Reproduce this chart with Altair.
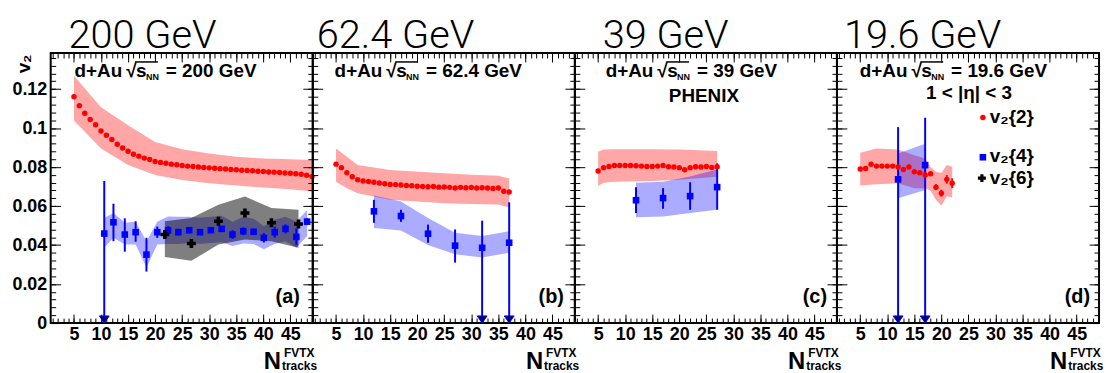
import altair as alt
import pandas as pd

# ---------------- layout / style constants ----------------
W, H = 264, 272
XDOM = [0.7, 49.14]
YDOM = [0.0, 0.1385]
FONT = "Liberation Sans, Arial, sans-serif"
NARROW = "Liberation Sans Narrow, Liberation Sans, Arial, sans-serif"
TITLE_FONT = "Roboto, Liberation Sans, sans-serif"
RED = "#ff0000"
BLUE = "#0000ff"

# ---------------- text / ticks ----------------
energies = ["200 GeV", "62.4 GeV", "39 GeV", "19.6 GeV"]
panel_tags = ["(a)", "(b)", "(c)", "(d)"]
x_major = [5, 10, 15, 20, 25, 30, 35, 40, 45]
y_major = [0.0, 0.02, 0.04, 0.06, 0.08, 0.10, 0.12]

# ---------------- panel (a) 200 GeV ----------------
a_v22_x = list(range(5, 50))
a_v22_y = [0.1161, 0.1115, 0.1076, 0.1044, 0.1017, 0.0985, 0.0963, 0.0941, 0.0917, 0.0898,
           0.0881, 0.0866, 0.0856, 0.0846, 0.0839, 0.0829, 0.0824, 0.0820, 0.0815, 0.0812,
           0.0808, 0.0805, 0.0803, 0.0800, 0.0798, 0.0796, 0.0794, 0.0792, 0.0790, 0.0788,
           0.0786, 0.0784, 0.0783, 0.0781, 0.0779, 0.0777, 0.0775, 0.0774, 0.0772, 0.0770,
           0.0768, 0.0766, 0.0763, 0.0758, 0.0751]
a_v22_band_x = [5, 10, 15, 20, 25, 30, 35, 40, 45, 49]
a_v22_band_lo = [0.1039, 0.0895, 0.0810, 0.0759, 0.0734, 0.0717, 0.0705, 0.0695, 0.0686, 0.0675]
a_v22_band_hi = [0.1268, 0.1107, 0.1014, 0.0929, 0.0892, 0.0870, 0.0853, 0.0844, 0.0840, 0.0836]

a_v24_x = [10.6, 12.3, 14.4, 16.4, 18.4, 20.4, 22.4, 24.3, 26.3, 28.3,
           30.3, 32.3, 34.3, 36.3, 38.2, 40.1, 42.1, 44.1, 46.1, 48.1]
a_v24_y = [0.0459, 0.0517, 0.0454, 0.0466, 0.0351, 0.0466, 0.0475, 0.0466, 0.0476, 0.0466,
           0.0476, 0.0483, 0.0454, 0.0471, 0.0468, 0.0437, 0.0466, 0.0483, 0.0442, 0.0520]
a_v24_lo = [0.0, 0.0420, 0.0366, 0.0417, 0.0264, 0.0437, 0.0453, 0.0448, 0.0460, 0.0452,
            0.0462, 0.0468, 0.0432, 0.0451, 0.0452, 0.0413, 0.0438, 0.0460, 0.0400, 0.0502]
a_v24_hi = [0.0729, 0.0612, 0.0537, 0.0522, 0.0437, 0.0495, 0.0497, 0.0484, 0.0492, 0.0480,
            0.0490, 0.0498, 0.0476, 0.0491, 0.0484, 0.0461, 0.0494, 0.0506, 0.0485, 0.0538]
a_v24_band_lo = [0.0386, 0.0437, 0.0403, 0.0403, 0.0285, 0.0403, 0.0405, 0.0405, 0.0410, 0.0405,
                 0.0410, 0.0415, 0.0395, 0.0408, 0.0405, 0.0378, 0.0405, 0.0420, 0.0386, 0.0446]
a_v24_band_hi = [0.0539, 0.0564, 0.0514, 0.0520, 0.0420, 0.0520, 0.0547, 0.0545, 0.0545, 0.0540,
                 0.0545, 0.0550, 0.0520, 0.0545, 0.0535, 0.0497, 0.0530, 0.0545, 0.0520, 0.0580]

a_v26_x = [21.8, 26.7, 31.7, 36.6, 41.5, 46.5]
a_v26_y = [0.0454, 0.0408, 0.0522, 0.0564, 0.0514, 0.0508]
a_v26_lo = [0.0440, 0.0393, 0.0507, 0.0549, 0.0499, 0.0493]
a_v26_hi = [0.0468, 0.0423, 0.0537, 0.0579, 0.0529, 0.0523]
a_v26_band_lo = [0.0339, 0.0319, 0.0403, 0.0429, 0.0420, 0.0386]
a_v26_band_hi = [0.0522, 0.0539, 0.0607, 0.0649, 0.0590, 0.0581]

# ---------------- panel (b) 62.4 GeV ----------------
b_v22_x = list(range(5, 38))
b_v22_y = [0.0815, 0.0797, 0.0771, 0.0750, 0.0735, 0.0729, 0.0726, 0.0722, 0.0718, 0.0714,
           0.0711, 0.0710, 0.0708, 0.0706, 0.0704, 0.0702, 0.0700, 0.0699, 0.0700, 0.0697,
           0.0698, 0.0696, 0.0693, 0.0696, 0.0694, 0.0695, 0.0693, 0.0694, 0.0693, 0.0690,
           0.0693, 0.0676, 0.0672]
b_v22_band_x = [5, 7, 9, 15, 25, 30, 35, 37]
b_v22_band_lo = [0.0725, 0.0692, 0.0666, 0.0632, 0.0615, 0.0610, 0.0608, 0.0593]
b_v22_band_hi = [0.0895, 0.0853, 0.0810, 0.0785, 0.0768, 0.0760, 0.0755, 0.0742]

b_v24_x = [12, 17, 22, 27, 32, 37]
b_v24_y = [0.0573, 0.0549, 0.0458, 0.0397, 0.0386, 0.0412]
b_v24_lo = [0.0514, 0.0519, 0.0412, 0.0310, 0.0, 0.0]
b_v24_hi = [0.0632, 0.0581, 0.0505, 0.0480, 0.0525, 0.0619]
b_v24_band_lo = [0.0488, 0.0475, 0.0400, 0.0353, 0.0336, 0.0361]
b_v24_band_hi = [0.0654, 0.0624, 0.0539, 0.0463, 0.0446, 0.0471]

# ---------------- panel (c) 39 GeV ----------------
c_v22_x = list(range(5, 28))
c_v22_y = [0.0780, 0.0797, 0.0803, 0.0808, 0.0808, 0.0808, 0.0808, 0.0807, 0.0805, 0.0803,
           0.0803, 0.0805, 0.0808, 0.0802, 0.0800, 0.0797, 0.0786, 0.0797, 0.0802, 0.0800,
           0.0803, 0.0798, 0.0802]
c_v22_band_x = [5, 6, 8, 15, 20, 27]
c_v22_band_lo = [0.0703, 0.0720, 0.0725, 0.0729, 0.0735, 0.0750]
c_v22_band_hi = [0.0878, 0.0890, 0.0892, 0.0892, 0.0890, 0.0883]

c_v24_x = [12, 17, 22, 27]
c_v24_y = [0.0630, 0.0641, 0.0651, 0.0697]
c_v24_lo = [0.0564, 0.0586, 0.0581, 0.0581]
c_v24_hi = [0.0697, 0.0692, 0.0722, 0.0819]
c_v24_band_lo = [0.0542, 0.0547, 0.0564, 0.0581]
c_v24_band_hi = [0.0720, 0.0725, 0.0751, 0.0788]

# ---------------- panel (d) 19.6 GeV ----------------
d_v22_x = list(range(5, 23))
d_v22_y = [0.0790, 0.0793, 0.0814, 0.0805, 0.0805, 0.0805, 0.0805, 0.0800, 0.0788, 0.0800,
           0.0776, 0.0771, 0.0759, 0.0766, 0.0697, 0.0666, 0.0737, 0.0717]
d_v22_lo = [0.0785, 0.0788, 0.0809, 0.0800, 0.0800, 0.0800, 0.0800, 0.0795, 0.0783, 0.0795,
            0.0771, 0.0766, 0.0753, 0.0760, 0.0682, 0.0648, 0.0715, 0.0692]
d_v22_hi = [0.0795, 0.0798, 0.0819, 0.0810, 0.0810, 0.0810, 0.0810, 0.0805, 0.0793, 0.0805,
            0.0781, 0.0776, 0.0765, 0.0772, 0.0712, 0.0684, 0.0759, 0.0742]
d_v22_band_x = [5, 8, 12, 15, 17, 18, 19, 20, 21, 22]
d_v22_band_lo = [0.0705, 0.0712, 0.0717, 0.0692, 0.0692, 0.0680, 0.0632, 0.0602, 0.0650, 0.0644]
d_v22_band_hi = [0.0873, 0.0895, 0.0890, 0.0861, 0.0844, 0.0800, 0.0776, 0.0770, 0.0810, 0.0802]

d_v24_x = [12, 17]
d_v24_y = [0.0737, 0.0810]
d_v24_lo = [0.0, 0.0]
d_v24_hi = [0.1005, 0.1053]
d_v24_band_lo = [0.0640, 0.0683]
d_v24_band_hi = [0.0870, 0.0920]


# ---------------- helpers ----------------
def X(field="x", axis=None):
    return alt.X(f"{field}:Q", scale=alt.Scale(domain=XDOM, nice=False, zero=False), axis=axis)


def Y(field, axis=None):
    return alt.Y(f"{field}:Q", scale=alt.Scale(domain=YDOM, nice=False, zero=False), axis=axis)


def band(x, lo, hi, color, opacity):
    df = pd.DataFrame({"x": x, "lo": lo, "hi": hi})
    return alt.Chart(df).mark_area(color=color, opacity=opacity, interpolate="linear").encode(
        x=X(), y=Y("lo"), y2="hi:Q")


def errbars(x, lo, hi, color, width=2):
    df = pd.DataFrame({"x": x, "lo": lo, "hi": hi})
    return alt.Chart(df).mark_rule(color=color, strokeWidth=width).encode(x=X(), y=Y("lo"), y2="hi:Q")


def pts(x, y, kind):
    df = pd.DataFrame({"x": x, "y": y})
    if kind == "circle":
        m = alt.Chart(df).mark_point(shape="circle", filled=True, size=30, color=RED, opacity=1)
    elif kind == "square":
        m = alt.Chart(df).mark_point(shape="square", filled=True, size=44, color=BLUE, opacity=1)
    else:
        m = alt.Chart(df).mark_point(shape="cross", filled=True, size=81, color="black", opacity=1)
    return m.encode(x=X(), y=Y("y"))


def arrows(x, lo):
    df = pd.DataFrame({"x": x, "lo": lo})
    df = df[df["lo"] <= 0.0]
    return alt.Chart(df).mark_point(
        shape="M-0.9,-1.3L0.9,-1.3L0,0Z", filled=True, size=121,
        fill="#000060", stroke=BLUE, strokeWidth=1, opacity=1).encode(x=X(), y=Y("lo"))


def ax(orient, values, size, labels=False, **kw):
    return alt.Axis(orient=orient, values=values, tickSize=size, offset=-size, domain=False,
                    grid=False, labels=labels, title=None, ticks=True, tickColor="black",
                    tickWidth=1, **kw)


DUMMY = pd.DataFrame({"x": [25.0], "y": [0.05]})


def axis_layer(xaxis, yaxis):
    return alt.Chart(DUMMY).mark_point(opacity=0).encode(
        x=X("x", xaxis), y=Y("y", yaxis))


ONE = pd.DataFrame({"d": [0]})


def txt(t, x, y, size=19, weight="bold", align="left", baseline="alphabetic", angle=0, font=FONT):
    props = dict(text=t, fontSize=size, fontWeight=weight, align=align, baseline=baseline,
                 font=font, color="black")
    if angle:
        props["angle"] = angle
    return alt.Chart(ONE).mark_text(**props).encode(x=alt.value(x), y=alt.value(y))


def hline(x1, x2, y):
    return alt.Chart(ONE).mark_rule(color="black", strokeWidth=1.5).encode(
        x=alt.value(x1), x2=alt.value(x2), y=alt.value(y))


x_minor = list(range(1, 50))
y_minor = [round(0.004 * k, 3) for k in range(0, 35)]

label_style = dict(labelFontWeight="bold", labelColor="black", labelOverlap=False, labelFlush=False)


def axis_layers(first):
    xb = ax("bottom", x_major, 9, labels=True, labelFont=NARROW, labelFontSize=18,
            labelPadding=3, **label_style)
    if first:
        yl = ax("left", y_major, 10, labels=True, labelFont=FONT, labelFontSize=18,
                labelPadding=4, format=".2~f", **label_style)
    else:
        yl = ax("left", y_major, 10)
    return [
        axis_layer(xb, yl),
        axis_layer(ax("bottom", x_minor, 5), ax("left", y_minor, 5)),
        axis_layer(ax("top", x_major, 9), ax("right", y_major, 10)),
        axis_layer(ax("top", x_minor, 5), ax("right", y_minor, 5)),
    ]


def header_text(start, energy):
    s = start - 24
    return [
        txt("d+Au", 24 + s, 24),
        txt("\u221a", 76 + s, 24),
        txt("s", 86 + s, 24),
        hline(85 + s, 108 + s, 9),
        txt("NN", 96 + s, 27, size=9),
        txt("= " + energy, 116 + s, 24),
    ]


def xtitle():
    return [
        txt("N", W - 32, H + 46, size=24, align="right"),
        txt("FVTX", W - 29, H + 34, size=12),
        txt("tracks", W - 31, H + 47, size=12),
    ]


RB, BB = "#ff0000", "#0000ff"


def make_panel(i, layers, extra, title_x, head_start, tag_x):
    base = layers + axis_layers(i == 0)
    base += [txt(energies[i], title_x, -5, size=40, weight=300, font=TITLE_FONT)]
    base += header_text(head_start, energies[i])
    base += [txt(panel_tags[i], tag_x, 252, size=20, align="right")]
    base += xtitle()
    base += extra
    return alt.layer(*base).resolve_axis(x="independent", y="independent").properties(
        width=W, height=H)


pa = make_panel(0, [
    band(a_v22_band_x, a_v22_band_lo, a_v22_band_hi, RB, 0.35),
    band(a_v24_x, a_v24_band_lo, a_v24_band_hi, BB, 0.33),
    band(a_v26_x, a_v26_band_lo, a_v26_band_hi, "#000000", 0.5),
    errbars(a_v24_x, a_v24_lo, a_v24_hi, BLUE),
    errbars(a_v26_x, a_v26_lo, a_v26_hi, "black"),
    pts(a_v22_x, a_v22_y, "circle"),
    pts(a_v24_x, a_v24_y, "square"),
    pts(a_v26_x, a_v26_y, "cross"),
    arrows(a_v24_x, a_v24_lo),
], [txt("v\u2082", -27, 11, size=19, align="center", baseline="middle", angle=270)],
    title_x=18, head_start=24, tag_x=251)

pb = make_panel(1, [
    band(b_v22_band_x, b_v22_band_lo, b_v22_band_hi, RB, 0.35),
    band(b_v24_x, b_v24_band_lo, b_v24_band_hi, BB, 0.33),
    errbars(b_v24_x, b_v24_lo, b_v24_hi, BLUE),
    pts(b_v22_x, b_v22_y, "circle"),
    pts(b_v24_x, b_v24_y, "square"),
    arrows(b_v24_x, b_v24_lo),
], [], title_x=4, head_start=22, tag_x=253)

pc = make_panel(2, [
    band(c_v22_band_x, c_v22_band_lo, c_v22_band_hi, RB, 0.35),
    band(c_v24_x, c_v24_band_lo, c_v24_band_hi, BB, 0.33),
    errbars(c_v24_x, c_v24_lo, c_v24_hi, BLUE),
    pts(c_v22_x, c_v22_y, "circle"),
    pts(c_v24_x, c_v24_y, "square"),
], [txt("PHENIX", 130, 49, align="center")], title_x=28, head_start=31, tag_x=254)

legend_d = [
    txt("1 < |\u03b7| < 3", 133, 46, align="center"),
    alt.Chart(ONE).mark_point(shape="circle", filled=True, size=30, color=RED, opacity=1).encode(
        x=alt.value(147), y=alt.value(65)),
    txt("v\u2082{2}", 154, 70),
    alt.Chart(ONE).mark_point(shape="square", filled=True, size=44, color=BLUE, opacity=1).encode(
        x=alt.value(147), y=alt.value(105)),
    txt("v\u2082{4}", 154, 110),
    alt.Chart(ONE).mark_point(shape="cross", filled=True, size=64, color="black", opacity=1).encode(
        x=alt.value(146), y=alt.value(126)),
    txt("v\u2082{6}", 154, 132),
]

pd_ = make_panel(3, [
    band(d_v22_band_x, d_v22_band_lo, d_v22_band_hi, RB, 0.35),
    band(d_v24_x, d_v24_band_lo, d_v24_band_hi, BB, 0.33),
    errbars(d_v22_x, d_v22_lo, d_v22_hi, RED),
    errbars(d_v24_x, d_v24_lo, d_v24_hi, BLUE),
    pts(d_v22_x, d_v22_y, "circle"),
    pts(d_v24_x, d_v24_y, "square"),
    arrows(d_v24_x, d_v24_lo),
], legend_d, title_x=7, head_start=23, tag_x=255)

chart = alt.hconcat(pa, pb, pc, pd_, spacing=0, bounds="flush").properties(
    padding={"left": 2, "top": 6, "right": 0, "bottom": 0}
).configure_view(stroke="black", strokeWidth=2)

chart.save("out.html", embed_options={"renderer": "svg", "actions": False})
